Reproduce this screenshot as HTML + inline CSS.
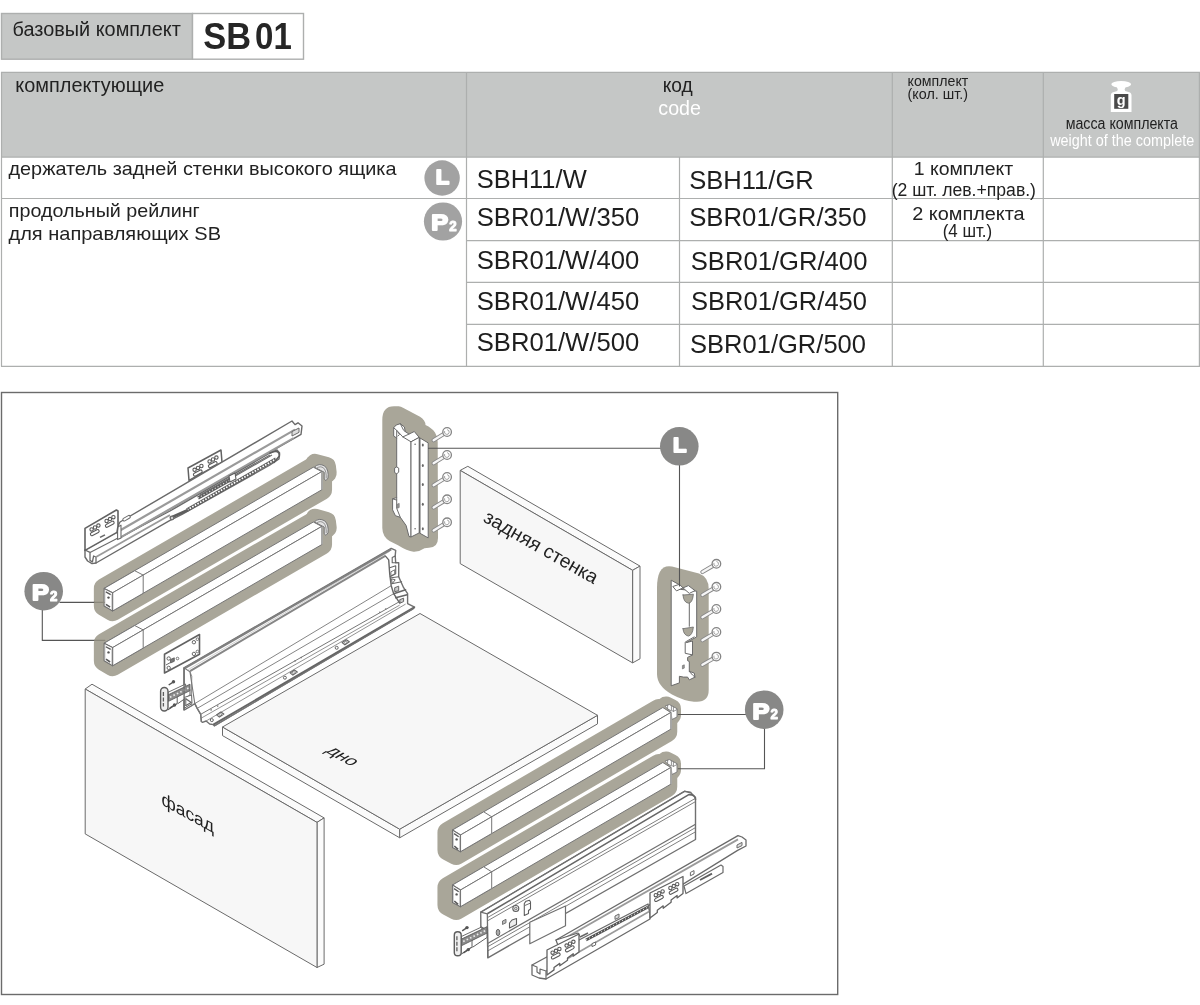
<!DOCTYPE html>
<html lang="ru">
<head>
<meta charset="utf-8">
<title>SB01</title>
<style>
html,body{margin:0;padding:0;background:#fff;}
body{width:1200px;height:1005px;overflow:hidden;font-family:"Liberation Sans",sans-serif;}
svg{display:block;will-change:transform;}
text{font-family:"Liberation Sans",sans-serif;}
</style>
</head>
<body>
<svg width="1200" height="1005" viewBox="0 0 1200 1005">
<rect x="1.5" y="13.5" width="191" height="45.7" fill="#c5c7c6" stroke="#adafae" stroke-width="1.4"/>
<rect x="192.5" y="13.5" width="111" height="45.7" fill="#fff" stroke="#adafae" stroke-width="1.4"/>
<text x="12.5" y="35.8" font-size="20" fill="#222" textLength="168.3" lengthAdjust="spacingAndGlyphs" >базовый комплект</text>
<text x="203.2" y="49" font-size="36.3" fill="#262626" textLength="47.8" lengthAdjust="spacingAndGlyphs" font-weight="bold" >SB</text>
<text x="255.1" y="49" font-size="36.3" fill="#262626" textLength="36.7" lengthAdjust="spacingAndGlyphs" font-weight="bold" >01</text>
<rect x="1" y="72" width="1199" height="85" fill="#c5c7c6" stroke="none" stroke-width="1"/>
<line x1="1" y1="72.3" x2="1200" y2="72.3" stroke="#adafae" stroke-width="1.2"/>
<line x1="1" y1="157.2" x2="1200" y2="157.2" stroke="#adafae" stroke-width="1.2"/>
<line x1="1" y1="198.5" x2="1200" y2="198.5" stroke="#adafae" stroke-width="1.2"/>
<line x1="466.5" y1="240.6" x2="1200" y2="240.6" stroke="#adafae" stroke-width="1.2"/>
<line x1="466.5" y1="282.3" x2="1200" y2="282.3" stroke="#adafae" stroke-width="1.2"/>
<line x1="466.5" y1="324.3" x2="1200" y2="324.3" stroke="#adafae" stroke-width="1.2"/>
<line x1="1" y1="366.3" x2="1200" y2="366.3" stroke="#adafae" stroke-width="1.2"/>
<line x1="1.5" y1="72" x2="1.5" y2="366.5" stroke="#adafae" stroke-width="1.2"/>
<line x1="466.5" y1="72" x2="466.5" y2="366.5" stroke="#adafae" stroke-width="1.2"/>
<line x1="679.5" y1="157" x2="679.5" y2="366.5" stroke="#adafae" stroke-width="1.2"/>
<line x1="892.3" y1="72" x2="892.3" y2="366.5" stroke="#adafae" stroke-width="1.2"/>
<line x1="1043.3" y1="72" x2="1043.3" y2="366.5" stroke="#adafae" stroke-width="1.2"/>
<line x1="1199.4" y1="72" x2="1199.4" y2="366.5" stroke="#adafae" stroke-width="1.2"/>
<text x="15.3" y="91.7" font-size="20" fill="#222" textLength="149" lengthAdjust="spacingAndGlyphs" >комплектующие</text>
<text x="662.7" y="92.3" font-size="19.5" fill="#222" textLength="30" lengthAdjust="spacingAndGlyphs" >код</text>
<text x="658.3" y="115" font-size="19.5" fill="#fff" textLength="42.7" lengthAdjust="spacingAndGlyphs" >code</text>
<text x="907.6" y="86.2" font-size="15" fill="#222" textLength="60.7" lengthAdjust="spacingAndGlyphs" >комплект</text>
<text x="907.6" y="98.6" font-size="15" fill="#222" textLength="60.4" lengthAdjust="spacingAndGlyphs" >(кол. шт.)</text>
<text x="1065.7" y="129" font-size="16" fill="#222" textLength="112.3" lengthAdjust="spacingAndGlyphs" >масса комплекта</text>
<text x="1050.2" y="145.6" font-size="16" fill="#fff" textLength="144" lengthAdjust="spacingAndGlyphs" >weight of the complete</text>
<g fill="#fff">
<ellipse cx="1121.2" cy="84.3" rx="9.9" ry="3.3" fill="#fff" stroke="none" stroke-width="1"/>
<path d="M1116.5 86 L1125.9 86 L1124.6 89.5 L1125.2 91 L1130 92.5 Q1131.3 93 1131.5 95 L1131.5 112 L1110.8 112 L1110.8 95 Q1111 93 1112.4 92.5 L1117.2 91 L1117.8 89.5 Z"/>
</g>
<rect x="1114.2" y="94" width="14.1" height="14.8" fill="#4a4a4a" stroke="none" stroke-width="1"/>
<text x="1121.3" y="105.3" font-size="14.5" fill="#fff" font-weight="bold" text-anchor="middle" >g</text>
<text x="8.5" y="175" font-size="19" fill="#222" textLength="388" lengthAdjust="spacingAndGlyphs" >держатель задней стенки высокого ящика</text>
<text x="8.8" y="216.8" font-size="18.5" fill="#222" textLength="191" lengthAdjust="spacingAndGlyphs" >продольный рейлинг</text>
<text x="8.5" y="239.5" font-size="18.5" fill="#222" textLength="212.5" lengthAdjust="spacingAndGlyphs" >для направляющих SB</text>
<circle cx="442.1" cy="178" r="17.7" fill="#a2a2a2" stroke="none" stroke-width="1"/>
<text transform="translate(435.8,184) scale(1.077,1)" font-size="20.5" font-weight="bold" fill="#fff" stroke="#fff" stroke-width="1.8" stroke-linejoin="round">L</text>
<circle cx="443" cy="221.5" r="19.1" fill="#a2a2a2" stroke="none" stroke-width="1"/>
<text transform="translate(431.3,230.4) scale(1.131,1)" font-size="22.4" font-weight="bold" fill="#fff" stroke="#fff" stroke-width="1.8" stroke-linejoin="round">P</text>
<text transform="translate(449.2,230.8) scale(0.959,1)" font-size="13.9" font-weight="bold" fill="#fff" stroke="#fff" stroke-width="1.0" stroke-linejoin="round">2</text>
<text x="476.7" y="188.3" font-size="25.5" fill="#1e1e1e" textLength="110" lengthAdjust="spacingAndGlyphs" >SBH11/W</text>
<text x="689.2" y="189.1" font-size="25.5" fill="#1e1e1e" textLength="124.6" lengthAdjust="spacingAndGlyphs" >SBH11/GR</text>
<text x="476.7" y="225.7" font-size="25.5" fill="#1e1e1e" textLength="162.6" lengthAdjust="spacingAndGlyphs" >SBR01/W/350</text>
<text x="689.2" y="226.3" font-size="25.5" fill="#1e1e1e" textLength="177.3" lengthAdjust="spacingAndGlyphs" >SBR01/GR/350</text>
<text x="476.7" y="269" font-size="25.5" fill="#1e1e1e" textLength="162.6" lengthAdjust="spacingAndGlyphs" >SBR01/W/400</text>
<text x="690.7" y="270" font-size="25.5" fill="#1e1e1e" textLength="176.7" lengthAdjust="spacingAndGlyphs" >SBR01/GR/400</text>
<text x="476.7" y="310" font-size="25.5" fill="#1e1e1e" textLength="162.6" lengthAdjust="spacingAndGlyphs" >SBR01/W/450</text>
<text x="691" y="310" font-size="25.5" fill="#1e1e1e" textLength="176" lengthAdjust="spacingAndGlyphs" >SBR01/GR/450</text>
<text x="476.7" y="351" font-size="25.5" fill="#1e1e1e" textLength="162.6" lengthAdjust="spacingAndGlyphs" >SBR01/W/500</text>
<text x="690" y="352.5" font-size="25.5" fill="#1e1e1e" textLength="176" lengthAdjust="spacingAndGlyphs" >SBR01/GR/500</text>
<text x="913.7" y="174.7" font-size="18" fill="#222" textLength="99.5" lengthAdjust="spacingAndGlyphs" >1 комплект</text>
<text x="891.7" y="195.7" font-size="18" fill="#222" textLength="144.3" lengthAdjust="spacingAndGlyphs" >(2 шт. лев.+прав.)</text>
<text x="912.2" y="219.7" font-size="18" fill="#222" textLength="112.5" lengthAdjust="spacingAndGlyphs" >2 комплекта</text>
<text x="942.7" y="237" font-size="18" fill="#222" textLength="49.5" lengthAdjust="spacingAndGlyphs" >(4 шт.)</text>
<rect x="1.5" y="392.5" width="836.2" height="602" fill="none" stroke="#6b6b6b" stroke-width="1.4"/>
<polygon points="460.2,470.4 467.8,466.3 640,566.1 632.6,570.3" fill="#fbfbfb" stroke="#6a6a6a" stroke-width="1" stroke-linejoin="round" />
<polygon points="632.6,570.3 640,566.1 640,658.8 632.6,662.9" fill="#fbfbfb" stroke="#6a6a6a" stroke-width="1" stroke-linejoin="round" />
<polygon points="460.2,470.4 632.6,570.3 632.6,662.9 460.2,563.6" fill="#f7f7f7" stroke="#6a6a6a" stroke-width="1" stroke-linejoin="round" />
<text transform="translate(482.3,520.9) rotate(29.7)" font-size="19.3" fill="#222" textLength="128.3" lengthAdjust="spacingAndGlyphs">задняя стенка</text>
<polygon points="104.1,588.4 313.3,467.2 321.8,471.6 321.8,489.8 112.6,611 104.1,606" fill="#a9a699" stroke="#a9a699" stroke-width="20.5" stroke-linejoin="round"/>
<polygon points="315,463.4 326.4,466.5 327.2,473.1 321.8,474.6" fill="#a9a699" stroke="#a9a699" stroke-width="19" stroke-linejoin="round"/>
<polygon points="104.1,643.2 313.3,522 321.8,526.4 321.8,544.6 112.6,665.8 104.1,660.8" fill="#a9a699" stroke="#a9a699" stroke-width="20.5" stroke-linejoin="round"/>
<polygon points="315,518.2 326.4,521.3 327.2,527.9 321.8,529.4" fill="#a9a699" stroke="#a9a699" stroke-width="19" stroke-linejoin="round"/>
<polygon points="448.2,832.5 658.5,710 666.5,715 666.5,731.7 456.2,854.2 448.2,850" fill="#a9a699" stroke="#a9a699" stroke-width="21.5" stroke-linejoin="round"/>
<polygon points="666,706.5 671,709 671,715 665,720" fill="#a9a699" stroke="#a9a699" stroke-width="20" stroke-linejoin="round"/>
<polygon points="448.2,887.5 658.5,765 666.5,770 666.5,786.7 456.2,909.2 448.2,905" fill="#a9a699" stroke="#a9a699" stroke-width="21.5" stroke-linejoin="round"/>
<polygon points="666,761.5 671,764 671,770 665,775" fill="#a9a699" stroke="#a9a699" stroke-width="20" stroke-linejoin="round"/>
<polygon points="188,468 221,450 222,462.4 189,480.4" fill="#fff" stroke="#626262" stroke-width="1.5" stroke-linejoin="round" />
<circle cx="194.6" cy="469.8" r="1.7" fill="#fff" stroke="#5a5a5a" stroke-width="1.1"/>
<circle cx="198" cy="467.9" r="1.7" fill="#fff" stroke="#5a5a5a" stroke-width="1.1"/>
<circle cx="201.4" cy="466" r="1.7" fill="#fff" stroke="#5a5a5a" stroke-width="1.1"/>
<rect x="193" y="471.4" width="9.5" height="3" rx="1.5" fill="#fff" stroke="#5a5a5a" stroke-width="1.1" transform="rotate(-28 198 472.9)"/>
<circle cx="209.6" cy="461.4" r="1.7" fill="#fff" stroke="#5a5a5a" stroke-width="1.1"/>
<circle cx="213" cy="459.5" r="1.7" fill="#fff" stroke="#5a5a5a" stroke-width="1.1"/>
<circle cx="216.4" cy="457.6" r="1.7" fill="#fff" stroke="#5a5a5a" stroke-width="1.1"/>
<rect x="208" y="463" width="9.5" height="3" rx="1.5" fill="#fff" stroke="#5a5a5a" stroke-width="1.1" transform="rotate(-28 213 464.5)"/>
<polygon points="85,550 117,532 119,538 170,511 270,453 277,450 279.6,453 279,459 270,465 182,514.4 170,520.4 96,563 92,563.6 87.6,561 85,557" fill="#fff" stroke="#6a6a6a" stroke-width="1.4" stroke-linejoin="round" />
<polygon points="118,526 120,522 292,421 295,424.6 298,422.8 302,426 301,434.4 294,438.4 119,538.4" fill="#fff" stroke="#6a6a6a" stroke-width="1.4" stroke-linejoin="round" />
<line x1="120.4" y1="530.2" x2="295" y2="429.6" stroke="#9a9a9a" stroke-width="2.2"/>
<line x1="119.8" y1="537.8" x2="293.6" y2="438" stroke="#9a9a9a" stroke-width="2.0"/>
<polygon points="292,431.6 299,428 299,432.4 292,436" fill="#ddd" stroke="#6a6a6a" stroke-width="1.0" stroke-linejoin="round" />
<rect x="122.4" y="519" width="8" height="2.8" rx="1.2" fill="#fff" stroke="#6a6a6a" stroke-width="1.0" transform="rotate(-30 122.4 519)"/>
<polygon points="117.6,527 121,525.2 121,538 117.6,539.6" fill="#fff" stroke="#6a6a6a" stroke-width="1.1" stroke-linejoin="round" />
<polyline points="85,550 90,552.4 90,560.4 92.4,562 93.6,556 96,557 96,563" fill="none" stroke="#6a6a6a" stroke-width="1.3" stroke-linejoin="round" stroke-linecap="round" />
<line x1="90" y1="552.4" x2="118" y2="538" stroke="#6a6a6a" stroke-width="1.1"/>
<line x1="96" y1="557" x2="170" y2="515" stroke="#9a9a9a" stroke-width="1.8"/>
<line x1="187" y1="510" x2="276" y2="459" stroke="#5e5e5e" stroke-width="3.4"/>
<line x1="187" y1="510" x2="276" y2="459" stroke="#fff" stroke-width="1.7" stroke-dasharray="1.6 1.4"/>
<line x1="170" y1="518" x2="188" y2="510" stroke="#5e5e5e" stroke-width="2.8"/>
<circle cx="172" cy="518" r="1.9" fill="#ccc" stroke="#5e5e5e" stroke-width="1.0"/>
<line x1="198" y1="498" x2="230" y2="480" stroke="#5e5e5e" stroke-width="3.2"/>
<line x1="198" y1="498" x2="230" y2="480" stroke="#ddd" stroke-width="1.2" stroke-dasharray="1.2 2"/>
<line x1="200" y1="495" x2="270" y2="455" stroke="#6a6a6a" stroke-width="1.1"/>
<line x1="230" y1="479" x2="272" y2="455" stroke="#6a6a6a" stroke-width="1.1"/>
<polygon points="229,476 235,473 236,479 230,482" fill="#fff" stroke="#5e5e5e" stroke-width="1.1" stroke-linejoin="round" />
<path d="M270 453 Q280 449 279.4 456 L274 462.4" fill="none" stroke="#5e5e5e" stroke-width="1.6" stroke-linejoin="round" stroke-linecap="round" />
<polygon points="85,528.4 116.4,510 118,511 118,526 117,532.4 85,550.4" fill="#fff" stroke="#626262" stroke-width="1.6" stroke-linejoin="round" />
<circle cx="91.6" cy="529.4" r="1.7" fill="#fff" stroke="#5a5a5a" stroke-width="1.1"/>
<circle cx="95" cy="527.5" r="1.7" fill="#fff" stroke="#5a5a5a" stroke-width="1.1"/>
<circle cx="98.4" cy="525.6" r="1.7" fill="#fff" stroke="#5a5a5a" stroke-width="1.1"/>
<rect x="90" y="531" width="9.5" height="3" rx="1.5" fill="#fff" stroke="#5a5a5a" stroke-width="1.1" transform="rotate(-28 95 532.5)"/>
<circle cx="106.6" cy="521" r="1.7" fill="#fff" stroke="#5a5a5a" stroke-width="1.1"/>
<circle cx="110" cy="519.1" r="1.7" fill="#fff" stroke="#5a5a5a" stroke-width="1.1"/>
<circle cx="113.4" cy="517.2" r="1.7" fill="#fff" stroke="#5a5a5a" stroke-width="1.1"/>
<rect x="105" y="522.6" width="9.5" height="3" rx="1.5" fill="#fff" stroke="#5a5a5a" stroke-width="1.1" transform="rotate(-28 110 524.1)"/>
<line x1="100" y1="537.4" x2="105" y2="534.8" stroke="#666" stroke-width="1.5"/>
<polygon points="164.5,654.3 199.5,634.5 199.5,654.3 164.5,673" fill="#fff" stroke="#626262" stroke-width="1.6" stroke-linejoin="round" />
<circle cx="168.7" cy="658.5" r="1.7" fill="#fff" stroke="#666" stroke-width="1.0"/>
<circle cx="168.7" cy="667.9" r="1.7" fill="#fff" stroke="#666" stroke-width="1.0"/>
<circle cx="193.9" cy="642.2" r="1.7" fill="#fff" stroke="#666" stroke-width="1.0"/>
<circle cx="193.9" cy="653.9" r="1.7" fill="#fff" stroke="#666" stroke-width="1.0"/>
<circle cx="197.4" cy="639.2" r="1.3" fill="#fff" stroke="#666" stroke-width="0.9"/>
<circle cx="197.4" cy="651.5" r="1.3" fill="#fff" stroke="#666" stroke-width="0.9"/>
<circle cx="177.5" cy="658.5" r="1.3" fill="#fff" stroke="#666" stroke-width="0.9"/>
<polygon points="170.5,659.5 174.3,657.8 174.3,661.3 170.5,663" fill="#777" stroke="#555" stroke-width="0.8" stroke-linejoin="round" />
<polyline points="166.3,664.8 170.5,662.5" fill="none" stroke="#666" stroke-width="1.0" stroke-linejoin="round" stroke-linecap="round" />
<polygon points="184,667.8 391.2,548.4 395.7,550.4 395.2,555.9 395.7,562.8 398.7,562.8 398.7,576.8 403.6,587.7 407.6,593.7 407.6,603.6 414.6,607.1 413.1,608.8 214.3,725.8 213.3,724.6 209.7,724 206.1,721 202.5,722.3 201.3,721.5 200.7,714.3 197.2,708.4 194.8,703.6 191.2,706 184,710.1" fill="#fff" stroke="#707070" stroke-width="1.4" stroke-linejoin="round" />
<line x1="188.2" y1="669.6" x2="389.7" y2="551.4" stroke="#c4c4c4" stroke-width="0.8"/>
<line x1="190" y1="671.1" x2="385.7" y2="555.6" stroke="#868686" stroke-width="1.9"/>
<line x1="184" y1="668.7" x2="391.2" y2="549.3" stroke="#808080" stroke-width="2.1"/>
<polyline points="184,667.8 190,671.9 194.8,703.6 197.2,708.4 200.7,714.3 201.3,721.5" fill="none" stroke="#777" stroke-width="1.1" stroke-linejoin="round" stroke-linecap="round" />
<polyline points="191.2,706 191.8,676.1 190,671.9" fill="none" stroke="#777" stroke-width="0.8" stroke-linejoin="round" stroke-linecap="round" />
<line x1="194.8" y1="703.6" x2="391.2" y2="585.7" stroke="#777" stroke-width="0.9"/>
<line x1="197.2" y1="708.4" x2="393.7" y2="593.7" stroke="#777" stroke-width="0.9"/>
<line x1="200.7" y1="714.3" x2="399.2" y2="601.8" stroke="#777" stroke-width="1.0"/>
<line x1="201.3" y1="718.1" x2="399.7" y2="605.1" stroke="#777" stroke-width="0.8"/>
<line x1="206.1" y1="721" x2="405.6" y2="604.1" stroke="#777" stroke-width="0.8"/>
<line x1="213.3" y1="724.6" x2="414.6" y2="607.1" stroke="#666" stroke-width="1.8"/>
<line x1="214.3" y1="726.2" x2="413.1" y2="608.8" stroke="#777" stroke-width="0.8"/>
<polyline points="385.7,556.4 388.7,559.9 389.7,573.8 391.2,585.7 393.7,593.7 399.7,603.1" fill="none" stroke="#666" stroke-width="1.4" stroke-linejoin="round" stroke-linecap="round" />
<polyline points="395.2,555.9 392.2,557.4 392.2,562.8 395.7,562.8" fill="none" stroke="#666" stroke-width="1.1" stroke-linejoin="round" stroke-linecap="round" />
<polyline points="389.7,567.8 395.7,565.8 395.7,573.8 390.2,576.8" fill="none" stroke="#666" stroke-width="1.1" stroke-linejoin="round" stroke-linecap="round" />
<polygon points="390.9,571.8 394.7,569.8 394.7,573.8 390.9,575.8" fill="#fff" stroke="#666" stroke-width="0.9" stroke-linejoin="round" />
<polyline points="391.2,577.8 398.7,576.8" fill="none" stroke="#666" stroke-width="1.1" stroke-linejoin="round" stroke-linecap="round" />
<polygon points="391.5,578.8 395.2,579.8 392.2,583.7" fill="#fff" stroke="#666" stroke-width="1.0" stroke-linejoin="round" />
<polyline points="391.7,583.7 401.6,581.7" fill="none" stroke="#666" stroke-width="1.1" stroke-linejoin="round" stroke-linecap="round" />
<polyline points="393.7,593.7 405.6,589.7" fill="none" stroke="#666" stroke-width="1.5" stroke-linejoin="round" stroke-linecap="round" />
<polyline points="395.7,597.7 407.1,594.7" fill="none" stroke="#666" stroke-width="1.5" stroke-linejoin="round" stroke-linecap="round" />
<polygon points="394.7,587.7 398.7,586.2 398.7,590.7 394.7,591.7" fill="#ccc" stroke="#666" stroke-width="1.0" stroke-linejoin="round" />
<polygon points="399.7,599.7 403.6,598.2 403.6,601.6 400.1,603.1" fill="#ccc" stroke="#666" stroke-width="1.0" stroke-linejoin="round" />
<polygon points="342.1,642.6 346.3,639.8 349.3,641.8 344.9,644.8" fill="#fff" stroke="#666" stroke-width="1.2" stroke-linejoin="round" />
<polygon points="343.9,642.5 346.1,641.2 347.5,642.1 345.3,643.5" fill="#fff" stroke="#777" stroke-width="0.7" stroke-linejoin="round" />
<polygon points="290.1,672.9 294.3,670.1 297.3,672.1 292.9,675.1" fill="#fff" stroke="#666" stroke-width="1.2" stroke-linejoin="round" />
<polygon points="291.9,672.8 294.1,671.5 295.5,672.4 293.3,673.8" fill="#fff" stroke="#777" stroke-width="0.7" stroke-linejoin="round" />
<polygon points="216.6,714.9 220.8,712.1 223.8,714.1 219.4,717.1" fill="#fff" stroke="#666" stroke-width="1.2" stroke-linejoin="round" />
<polygon points="218.4,714.8 220.6,713.5 222,714.4 219.8,715.8" fill="#fff" stroke="#777" stroke-width="0.7" stroke-linejoin="round" />
<circle cx="336.7" cy="647.8" r="1.5" fill="#fff" stroke="#666" stroke-width="1.0"/>
<circle cx="284.9" cy="677.7" r="1.5" fill="#fff" stroke="#666" stroke-width="1.0"/>
<circle cx="211.8" cy="720.1" r="1.5" fill="#fff" stroke="#666" stroke-width="1.0"/>
<circle cx="379.8" cy="612.3" r="0.8" fill="#777" stroke="none" stroke-width="1"/>
<circle cx="385.7" cy="609.1" r="0.8" fill="#777" stroke="none" stroke-width="1"/>
<circle cx="295.1" cy="660.9" r="0.8" fill="#777" stroke="none" stroke-width="1"/>
<circle cx="301.2" cy="657.6" r="0.8" fill="#777" stroke="none" stroke-width="1"/>
<circle cx="211.1" cy="709.9" r="0.8" fill="#777" stroke="none" stroke-width="1"/>
<circle cx="217.7" cy="706.1" r="0.8" fill="#777" stroke="none" stroke-width="1"/>
<polygon points="177.2,696.5 190,689.5 190,695 177.9,703.6 177.2,703" fill="#fff" stroke="#5e5e5e" stroke-width="1.0" stroke-linejoin="round" />
<line x1="168" y1="709.8" x2="177.2" y2="703.5" stroke="#5e5e5e" stroke-width="1.1"/>
<polygon points="168.5,694.7 190,684.2 190,690.6 168.5,701.3" fill="#8c8c8c" stroke="#5e5e5e" stroke-width="0.9" stroke-linejoin="round" />
<line x1="170" y1="697.2" x2="189" y2="687.8" stroke="#eee" stroke-width="1.6" stroke-dasharray="1.6 2.2"/>
<polygon points="168,692.3 185.6,684 185.6,686.4 168,694.9" fill="#fff" stroke="#5e5e5e" stroke-width="0.9" stroke-linejoin="round" />
<rect x="160.6" y="687.5" width="7.4" height="23.5" rx="3.7" fill="#efefef" stroke="#5e5e5e" stroke-width="1.4"/>
<line x1="163.4" y1="692" x2="163.4" y2="706.5" stroke="#5e5e5e" stroke-width="1.3" stroke-dasharray="4 1.5"/>
<line x1="173.5" y1="681.8" x2="168.7" y2="685" stroke="#555" stroke-width="1.5"/>
<circle cx="173.5" cy="681.8" r="1.7" fill="#555" stroke="none" stroke-width="1"/>
<line x1="174.5" y1="705" x2="169.7" y2="708.2" stroke="#555" stroke-width="1.5"/>
<circle cx="174.5" cy="705" r="1.7" fill="#555" stroke="none" stroke-width="1"/>
<polygon points="184.4,697.4 191.6,695 192,703.6 184.4,708.1" fill="#fff" stroke="#666" stroke-width="1.0" stroke-linejoin="round" />
<polyline points="185.8,698.8 191.2,702.4 185.8,705.4" fill="none" stroke="#666" stroke-width="1.2" stroke-linejoin="round" stroke-linecap="round" />
<polyline points="185.8,698.8 185.8,705.4" fill="none" stroke="#666" stroke-width="1.0" stroke-linejoin="round" stroke-linecap="round" />
<line x1="184.1" y1="668" x2="184.1" y2="710.1" stroke="#707070" stroke-width="1.4"/>
<polygon points="222.5,727 399.7,829.2 399.7,837.8 222.5,735.6" fill="#fbfbfb" stroke="#6a6a6a" stroke-width="1" stroke-linejoin="round" />
<polygon points="399.7,829.2 597.5,715.3 597.5,723.9 399.7,837.8" fill="#fbfbfb" stroke="#6a6a6a" stroke-width="1" stroke-linejoin="round" />
<polygon points="222.5,727 420,613.5 597.5,715.3 399.7,829.2" fill="#f7f7f7" stroke="#6a6a6a" stroke-width="1" stroke-linejoin="round" />
<text transform="matrix(0.78,0.45,-0.78,0.45,324.7,751.4)" font-size="20" fill="#222">дно</text>
<polygon points="85.2,689 92,684.2 324.1,817.9 317,822.4" fill="#fbfbfb" stroke="#6a6a6a" stroke-width="1" stroke-linejoin="round" />
<polygon points="317,822.4 324.1,817.9 324.1,964.2 317,967.5" fill="#fbfbfb" stroke="#6a6a6a" stroke-width="1" stroke-linejoin="round" />
<polygon points="85.2,689 317,822.4 317,967.5 85.2,833.9" fill="#f7f7f7" stroke="#6a6a6a" stroke-width="1" stroke-linejoin="round" />
<text transform="translate(161.5,804.6) skewY(28.7)" font-size="18" fill="#222" textLength="52.4" lengthAdjust="spacingAndGlyphs">фасад</text>
<path d="M314.6 466.9 Q318.8 462.6 324.8 466.1 Q329 470.1 328 478.1 L326 480.6 L324.2 479.1 L324.2 472.6 Z" fill="#e4e4e4" stroke="#777" stroke-width="1.0" stroke-linejoin="round" stroke-linecap="round" />
<path d="M316.8 468.2 Q320.3 465.3 323.8 468.2 Q326.6 471.1 326.2 478.1" fill="none" stroke="#888" stroke-width="0.9" stroke-linejoin="round" stroke-linecap="round" />
<polygon points="104.1,588.4 313.3,467.2 321.8,471.6 112.6,592.8" fill="#fff" stroke="#767676" stroke-width="1" stroke-linejoin="round" />
<polygon points="112.6,592.8 321.8,471.6 321.8,489.8 112.6,611" fill="#fff" stroke="#767676" stroke-width="1" stroke-linejoin="round" />
<line x1="322" y1="472.1" x2="322" y2="489.5" stroke="#aaa" stroke-width="1.6"/>
<polygon points="104.1,588.4 134.7,570.7 143.2,575.1 112.6,592.8" fill="#fff" stroke="#767676" stroke-width="1" stroke-linejoin="round" />
<polygon points="112.6,592.8 143.2,575.1 143.2,593.3 112.6,611" fill="#fff" stroke="#767676" stroke-width="1" stroke-linejoin="round" />
<polygon points="104.1,588.4 112.6,592.8 112.6,611 104.1,606" fill="#fff" stroke="#707070" stroke-width="1.1" stroke-linejoin="round" />
<line x1="105.8" y1="591.9" x2="110.7" y2="594.6" stroke="#5a5a5a" stroke-width="1.3"/>
<circle cx="108.5" cy="597.6" r="1.2" fill="#555" stroke="none" stroke-width="1"/>
<line x1="106" y1="604.3" x2="110.1" y2="607.2" stroke="#5a5a5a" stroke-width="1.6"/>
<line x1="104.9" y1="590.3" x2="104.9" y2="605.5" stroke="#aaa" stroke-width="0.7"/>
<line x1="111.8" y1="593.9" x2="111.8" y2="609.5" stroke="#aaa" stroke-width="0.7"/>
<path d="M314.6 521.7 Q318.8 517.4 324.8 520.9 Q329 524.9 328 532.9 L326 535.4 L324.2 533.9 L324.2 527.4 Z" fill="#e4e4e4" stroke="#777" stroke-width="1.0" stroke-linejoin="round" stroke-linecap="round" />
<path d="M316.8 523 Q320.3 520.1 323.8 523 Q326.6 525.9 326.2 532.9" fill="none" stroke="#888" stroke-width="0.9" stroke-linejoin="round" stroke-linecap="round" />
<polygon points="104.1,643.2 313.3,522 321.8,526.4 112.6,647.6" fill="#fff" stroke="#767676" stroke-width="1" stroke-linejoin="round" />
<polygon points="112.6,647.6 321.8,526.4 321.8,544.6 112.6,665.8" fill="#fff" stroke="#767676" stroke-width="1" stroke-linejoin="round" />
<line x1="322" y1="526.9" x2="322" y2="544.3" stroke="#aaa" stroke-width="1.6"/>
<polygon points="104.1,643.2 134.7,625.5 143.2,629.9 112.6,647.6" fill="#fff" stroke="#767676" stroke-width="1" stroke-linejoin="round" />
<polygon points="112.6,647.6 143.2,629.9 143.2,648.1 112.6,665.8" fill="#fff" stroke="#767676" stroke-width="1" stroke-linejoin="round" />
<polygon points="104.1,643.2 112.6,647.6 112.6,665.8 104.1,660.8" fill="#fff" stroke="#707070" stroke-width="1.1" stroke-linejoin="round" />
<line x1="105.8" y1="646.7" x2="110.7" y2="649.4" stroke="#5a5a5a" stroke-width="1.3"/>
<circle cx="108.5" cy="652.4" r="1.2" fill="#555" stroke="none" stroke-width="1"/>
<line x1="106" y1="659.1" x2="110.1" y2="662" stroke="#5a5a5a" stroke-width="1.6"/>
<line x1="104.9" y1="645.1" x2="104.9" y2="660.3" stroke="#aaa" stroke-width="0.7"/>
<line x1="111.8" y1="648.7" x2="111.8" y2="664.3" stroke="#aaa" stroke-width="0.7"/>
<polygon points="665,706.2 669.3,704.5 677,708.7 677,717 672,719.5 671,712.5" fill="#fff" stroke="#777" stroke-width="0.9" stroke-linejoin="round" />
<polyline points="667.6,705.3 667.6,708.9 671.2,710.8" fill="none" stroke="#777" stroke-width="0.8" stroke-linejoin="round" stroke-linecap="round" />
<polyline points="671.4,705.9 671.4,710.3 673.4,711.4 673.4,706.9" fill="none" stroke="#777" stroke-width="0.8" stroke-linejoin="round" stroke-linecap="round" />
<polyline points="673.4,711.4 677,709.5" fill="none" stroke="#777" stroke-width="0.8" stroke-linejoin="round" stroke-linecap="round" />
<polygon points="452.5,830 662.8,707.5 670.8,712.5 460.5,835" fill="#fff" stroke="#767676" stroke-width="1" stroke-linejoin="round" />
<polygon points="460.5,835 670.8,712.5 670.8,729.2 460.5,851.7" fill="#fff" stroke="#767676" stroke-width="1" stroke-linejoin="round" />
<line x1="671" y1="713" x2="671" y2="728.9" stroke="#aaa" stroke-width="1.6"/>
<polygon points="452.5,830 483.7,811.8 491.7,816.8 460.5,835" fill="#fff" stroke="#767676" stroke-width="1" stroke-linejoin="round" />
<polygon points="460.5,835 491.7,816.8 491.7,833.5 460.5,851.7" fill="#fff" stroke="#767676" stroke-width="1" stroke-linejoin="round" />
<polygon points="452.5,830 460.5,835 460.5,851.7 452.5,847.5" fill="#fff" stroke="#707070" stroke-width="1.1" stroke-linejoin="round" />
<line x1="454.1" y1="833.6" x2="458.7" y2="836.7" stroke="#5a5a5a" stroke-width="1.3"/>
<circle cx="456.6" cy="839.4" r="1.2" fill="#555" stroke="none" stroke-width="1"/>
<line x1="454.3" y1="846" x2="458.1" y2="849.3" stroke="#5a5a5a" stroke-width="1.6"/>
<line x1="453.3" y1="832" x2="453.3" y2="846.9" stroke="#aaa" stroke-width="0.7"/>
<line x1="459.7" y1="836" x2="459.7" y2="850.3" stroke="#aaa" stroke-width="0.7"/>
<polygon points="665,761.2 669.3,759.5 677,763.7 677,772 672,774.5 671,767.5" fill="#fff" stroke="#777" stroke-width="0.9" stroke-linejoin="round" />
<polyline points="667.6,760.3 667.6,763.9 671.2,765.8" fill="none" stroke="#777" stroke-width="0.8" stroke-linejoin="round" stroke-linecap="round" />
<polyline points="671.4,760.9 671.4,765.3 673.4,766.4 673.4,761.9" fill="none" stroke="#777" stroke-width="0.8" stroke-linejoin="round" stroke-linecap="round" />
<polyline points="673.4,766.4 677,764.5" fill="none" stroke="#777" stroke-width="0.8" stroke-linejoin="round" stroke-linecap="round" />
<polygon points="452.5,885 662.8,762.5 670.8,767.5 460.5,890" fill="#fff" stroke="#767676" stroke-width="1" stroke-linejoin="round" />
<polygon points="460.5,890 670.8,767.5 670.8,784.2 460.5,906.7" fill="#fff" stroke="#767676" stroke-width="1" stroke-linejoin="round" />
<line x1="671" y1="768" x2="671" y2="783.9" stroke="#aaa" stroke-width="1.6"/>
<polygon points="452.5,885 483.7,866.8 491.7,871.8 460.5,890" fill="#fff" stroke="#767676" stroke-width="1" stroke-linejoin="round" />
<polygon points="460.5,890 491.7,871.8 491.7,888.5 460.5,906.7" fill="#fff" stroke="#767676" stroke-width="1" stroke-linejoin="round" />
<polygon points="452.5,885 460.5,890 460.5,906.7 452.5,902.5" fill="#fff" stroke="#707070" stroke-width="1.1" stroke-linejoin="round" />
<line x1="454.1" y1="888.6" x2="458.7" y2="891.7" stroke="#5a5a5a" stroke-width="1.3"/>
<circle cx="456.6" cy="894.4" r="1.2" fill="#555" stroke="none" stroke-width="1"/>
<line x1="454.3" y1="901" x2="458.1" y2="904.3" stroke="#5a5a5a" stroke-width="1.6"/>
<line x1="453.3" y1="887" x2="453.3" y2="901.9" stroke="#aaa" stroke-width="0.7"/>
<line x1="459.7" y1="891" x2="459.7" y2="905.3" stroke="#aaa" stroke-width="0.7"/>
<polygon points="480.8,912.1 684.5,791.3 690.8,792.8 695.5,797.5 695.5,839.5 487.8,957.8 487.5,930 481,927" fill="#fff" stroke="#707070" stroke-width="1.4" stroke-linejoin="round" />
<path d="M487.3 913.8 L688.8 794.6 Q695.5 794.5 695.5 799.5" fill="none" stroke="#666" stroke-width="1.6" stroke-linejoin="round" stroke-linecap="round" />
<line x1="487.3" y1="913.8" x2="487.8" y2="957.8" stroke="#707070" stroke-width="1.4"/>
<polyline points="480.8,912.1 684.5,791.3 691,792.2" fill="none" stroke="#707070" stroke-width="1.1" stroke-linejoin="round" stroke-linecap="round" />
<line x1="487.6" y1="917.5" x2="695.5" y2="798.3" stroke="#707070" stroke-width="0.9"/>
<line x1="487.6" y1="920.8" x2="695.5" y2="801.6" stroke="#707070" stroke-width="0.9"/>
<line x1="487.6" y1="943.5" x2="695.5" y2="824.3" stroke="#707070" stroke-width="1.2"/>
<line x1="487.6" y1="946.8" x2="695.5" y2="827.6" stroke="#707070" stroke-width="0.9"/>
<line x1="487.6" y1="951" x2="695.5" y2="831.8" stroke="#707070" stroke-width="0.9"/>
<polygon points="529.8,922.3 565.5,906 565.5,925.8 529.8,943.8" fill="#fff" stroke="#707070" stroke-width="1.2" stroke-linejoin="round" />
<circle cx="515.8" cy="908.5" r="3" fill="#fff" stroke="#5e5e5e" stroke-width="1.1"/>
<circle cx="515.8" cy="908.5" r="1.3" fill="#ddd" stroke="#5e5e5e" stroke-width="0.8"/>
<polygon points="524.3,903.5 526,901.2 529.5,900.2 530.5,902 530.5,909 528.5,910.5 528.5,913.5 524.3,915.5" fill="#fff" stroke="#5e5e5e" stroke-width="1.1" stroke-linejoin="round" />
<line x1="524.8" y1="905.5" x2="530" y2="903.3" stroke="#5e5e5e" stroke-width="0.9"/>
<polygon points="509.5,923 512,920 516.5,918.5 516.5,924.5 509.5,928" fill="#eee" stroke="#5e5e5e" stroke-width="1.1" stroke-linejoin="round" />
<polygon points="502.5,921 506,919.3 506,922.8 502.5,924.5" fill="#bbb" stroke="#5e5e5e" stroke-width="0.8" stroke-linejoin="round" />
<ellipse cx="498" cy="932.5" rx="1.8" ry="3.2" fill="#aaa" stroke="#5e5e5e" stroke-width="0.9"/>
<polygon points="480.8,912.1 487.3,913.8 487.5,930 481,927" fill="#fff" stroke="#707070" stroke-width="1.2" stroke-linejoin="round" />
<polygon points="472,940 487,932 487,937.5 472.8,947.1 472,946.5" fill="#fff" stroke="#5e5e5e" stroke-width="1.0" stroke-linejoin="round" />
<line x1="461.2" y1="954.1" x2="472" y2="947" stroke="#5e5e5e" stroke-width="1.1"/>
<polygon points="461.7,939 487,926.7 487,933.1 461.7,945.6" fill="#8c8c8c" stroke="#5e5e5e" stroke-width="0.9" stroke-linejoin="round" />
<line x1="463.2" y1="941.5" x2="486" y2="930.3" stroke="#eee" stroke-width="1.6" stroke-dasharray="1.6 2.2"/>
<polygon points="461.2,936.6 481.8,926.9 481.8,929.3 461.2,939.2" fill="#fff" stroke="#5e5e5e" stroke-width="0.9" stroke-linejoin="round" />
<rect x="454.3" y="931.8" width="6.9" height="24" rx="3.4" fill="#efefef" stroke="#5e5e5e" stroke-width="1.4"/>
<line x1="456.9" y1="936.3" x2="456.9" y2="951.3" stroke="#5e5e5e" stroke-width="1.3" stroke-dasharray="4 1.5"/>
<line x1="467" y1="927.6" x2="462.2" y2="930.8" stroke="#555" stroke-width="1.5"/>
<circle cx="467" cy="927.6" r="1.7" fill="#555" stroke="none" stroke-width="1"/>
<line x1="468.3" y1="949.6" x2="463.5" y2="952.8" stroke="#555" stroke-width="1.5"/>
<circle cx="468.3" cy="949.6" r="1.7" fill="#555" stroke="none" stroke-width="1"/>
<polygon points="684,886 721,865 723,866.4 723,872.4 686,893.6" fill="#fff" stroke="#6a6a6a" stroke-width="1.2" stroke-linejoin="round" />
<line x1="700" y1="880" x2="712" y2="873.6" stroke="#5e5e5e" stroke-width="1.8"/>
<polygon points="556,940 738,835.6 742,837 746,840 746,846 737.6,850.4 580,948 580,942" fill="#fff" stroke="#6a6a6a" stroke-width="1.3" stroke-linejoin="round" />
<line x1="557" y1="942.8" x2="738" y2="839.4" stroke="#9a9a9a" stroke-width="1.8"/>
<polygon points="737,845 742,842.4 742,845.6 737,848" fill="#ddd" stroke="#6a6a6a" stroke-width="1.0" stroke-linejoin="round" />
<polygon points="532,965 556,952 648,904 650,914 650,919 546,979 539,978 532,975" fill="#fff" stroke="#6a6a6a" stroke-width="1.3" stroke-linejoin="round" />
<polyline points="532,965 537,967 537,972 540,974 540,969 546,971 546,979" fill="none" stroke="#6a6a6a" stroke-width="1.2" stroke-linejoin="round" stroke-linecap="round" />
<line x1="546" y1="971" x2="650" y2="911" stroke="#9a9a9a" stroke-width="1.6"/>
<line x1="586" y1="940" x2="648" y2="907" stroke="#555" stroke-width="2.6"/>
<line x1="586" y1="940" x2="648" y2="907" stroke="#ddd" stroke-width="1.0" stroke-dasharray="1.2 2.2"/>
<line x1="580" y1="937" x2="588" y2="933" stroke="#666" stroke-width="1.4"/>
<polygon points="615,916 619,914 619,917.6 615,919.4" fill="#ddd" stroke="#6a6a6a" stroke-width="1.0" stroke-linejoin="round" />
<polygon points="592,943.6 595.6,942 595.6,945 592,946.6" fill="#fff" stroke="#6a6a6a" stroke-width="1.0" stroke-linejoin="round" />
<polygon points="690.4,872.4 694,870.6 694,874 690.4,875.8" fill="#fff" stroke="#6a6a6a" stroke-width="1.0" stroke-linejoin="round" />
<polygon points="556,940 578,933 579.4,935.6 558,945.6" fill="#fff" stroke="#626262" stroke-width="1.2" stroke-linejoin="round" />
<polygon points="547,950 579,934 579,952 573.2,956.1 573.2,953.7 567.5,957.9 567.5,960.3 559.8,965.8 559.8,963.4 554,967.5 554,969.9 547,975" fill="#fff" stroke="#626262" stroke-width="1.3" stroke-linejoin="round" />
<circle cx="552.6" cy="952.7" r="1.7" fill="#fff" stroke="#5a5a5a" stroke-width="1.1"/>
<circle cx="556" cy="950.8" r="1.7" fill="#fff" stroke="#5a5a5a" stroke-width="1.1"/>
<circle cx="559.4" cy="948.9" r="1.7" fill="#fff" stroke="#5a5a5a" stroke-width="1.1"/>
<rect x="551" y="954.3" width="9.5" height="3" rx="1.5" fill="#fff" stroke="#5a5a5a" stroke-width="1.1" transform="rotate(-28 556 955.8)"/>
<circle cx="566.6" cy="945.6" r="1.7" fill="#fff" stroke="#5a5a5a" stroke-width="1.1"/>
<circle cx="570" cy="943.7" r="1.7" fill="#fff" stroke="#5a5a5a" stroke-width="1.1"/>
<circle cx="573.4" cy="941.8" r="1.7" fill="#fff" stroke="#5a5a5a" stroke-width="1.1"/>
<rect x="565" y="947.2" width="9.5" height="3" rx="1.5" fill="#fff" stroke="#5a5a5a" stroke-width="1.1" transform="rotate(-28 570 948.7)"/>
<polygon points="650,893 683,876.5 683,893.5 677.1,897.9 677.1,895.5 671.1,899.9 671.1,902.3 663.2,908.2 663.2,905.8 657.3,910.2 657.3,912.6 650,918" fill="#fff" stroke="#626262" stroke-width="1.3" stroke-linejoin="round" />
<circle cx="655.8" cy="895.2" r="1.7" fill="#fff" stroke="#5a5a5a" stroke-width="1.1"/>
<circle cx="659.2" cy="893.3" r="1.7" fill="#fff" stroke="#5a5a5a" stroke-width="1.1"/>
<circle cx="662.6" cy="891.4" r="1.7" fill="#fff" stroke="#5a5a5a" stroke-width="1.1"/>
<rect x="654.2" y="896.8" width="9.5" height="3" rx="1.5" fill="#fff" stroke="#5a5a5a" stroke-width="1.1" transform="rotate(-28 659.2 898.3)"/>
<circle cx="670.4" cy="888" r="1.7" fill="#fff" stroke="#5a5a5a" stroke-width="1.1"/>
<circle cx="673.8" cy="886.1" r="1.7" fill="#fff" stroke="#5a5a5a" stroke-width="1.1"/>
<circle cx="677.2" cy="884.2" r="1.7" fill="#fff" stroke="#5a5a5a" stroke-width="1.1"/>
<rect x="668.8" y="889.6" width="9.5" height="3" rx="1.5" fill="#fff" stroke="#5a5a5a" stroke-width="1.1" transform="rotate(-28 673.8 891.1)"/>
<path d="M382.3 420 Q382.3 406.3 394 406.3 L398.7 406.3 Q401 406.5 403 407.8 L420 416.8 Q425.3 420 425.5 425 Q432 428 435 432.5 Q437.7 436.5 437.7 442 L438 538 Q438 547.5 429 547.8 L424.5 548.2 Q419 552 413.5 551.7 Q407 551 398 545.3 L389.5 541 Q382.5 536.5 382.3 528 Z" fill="#a9a699" stroke="none" stroke-width="1" stroke-linejoin="round" stroke-linecap="round" />
<polygon points="393.7,427.8 396.2,425 400.3,423.7 404.4,427 405.2,431.5 409,434.1 414.3,431.5 419.2,437.4 411,441.8 411,537 409,536.5 406.1,525.5 400.3,517.3 395.4,515.7 392.6,509.9 392.6,498.8 396.7,497.6 396.7,473.8 394.6,472.5 394.6,468.1 396.7,466.9 396.7,438 393.7,436.1" fill="#fff" stroke="#6a6a6a" stroke-width="1" stroke-linejoin="round" />
<polyline points="393.7,427.8 396.7,430.3 396.7,438" fill="none" stroke="#6a6a6a" stroke-width="1" stroke-linejoin="round" stroke-linecap="round" />
<polyline points="396.7,430.3 402.8,436.9 411,441.8" fill="none" stroke="#6a6a6a" stroke-width="1" stroke-linejoin="round" stroke-linecap="round" />
<polyline points="402.8,436.9 409,434.1" fill="none" stroke="#6a6a6a" stroke-width="1" stroke-linejoin="round" stroke-linecap="round" />
<polyline points="400.3,423.7 403.6,430.3 405.2,431.5" fill="none" stroke="#6a6a6a" stroke-width="1" stroke-linejoin="round" stroke-linecap="round" />
<polyline points="397.8,431.9 399.5,434.4 397.8,436.1" fill="none" stroke="#6a6a6a" stroke-width="1" stroke-linejoin="round" stroke-linecap="round" />
<polyline points="396.7,466.9 398.7,468.1 398.7,472.2 396.7,473.8" fill="none" stroke="#6a6a6a" stroke-width="1" stroke-linejoin="round" stroke-linecap="round" />
<polyline points="392.6,498.8 396.7,500.1 396.7,497.6" fill="none" stroke="#6a6a6a" stroke-width="1" stroke-linejoin="round" stroke-linecap="round" />
<polyline points="396.7,500.1 396.7,508.3 400.3,517.3" fill="none" stroke="#6a6a6a" stroke-width="1" stroke-linejoin="round" stroke-linecap="round" />
<polygon points="397.2,504.2 399.2,503.4 399.2,507.5 397.2,508.3" fill="#999" stroke="#666" stroke-width="0.6" stroke-linejoin="round" />
<polygon points="411,441.8 419.2,437.4 419.2,532.9 411,537" fill="#fff" stroke="#6a6a6a" stroke-width="1" stroke-linejoin="round" />
<polygon points="420,438 428.2,442.9 428.2,537.9 420,533.3" fill="#fff" stroke="#6a6a6a" stroke-width="1" stroke-linejoin="round" />
<line x1="419.5" y1="437.4" x2="419.5" y2="533.3" stroke="#6a6a6a" stroke-width="1"/>
<circle cx="415.1" cy="444.3" r="0.7" fill="#555" stroke="none" stroke-width="1"/>
<circle cx="415.1" cy="528.8" r="0.7" fill="#555" stroke="none" stroke-width="1"/>
<ellipse cx="422.8" cy="445.1" rx="1" ry="1.5" fill="#666" stroke="none" stroke-width="1"/>
<ellipse cx="422.8" cy="465.6" rx="1" ry="1.5" fill="#666" stroke="none" stroke-width="1"/>
<ellipse cx="422.8" cy="484.5" rx="1" ry="1.5" fill="#666" stroke="none" stroke-width="1"/>
<ellipse cx="422.8" cy="504.2" rx="1" ry="1.5" fill="#666" stroke="none" stroke-width="1"/>
<ellipse cx="422.8" cy="528.8" rx="1" ry="1.5" fill="#666" stroke="none" stroke-width="1"/>
<path d="M657 588 Q657 566.3 669 566.3 L672 566.5 L699 573.5 Q708.7 577 708.7 589 L708.7 690 Q708.7 701.7 697 701.7 L694 701.7 Q684 701 672 694.5 Q657 686 657 674 Z" fill="#a9a699" stroke="none" stroke-width="1" stroke-linejoin="round" stroke-linecap="round" />
<polygon points="671.2,580.2 680.2,585.2 680.2,589.3 696.7,591.2 696.7,636.9 686.3,642.6 692.5,641 692.5,654.9 687.6,657.4 687.6,660.7 689.3,661.5 689.3,671.4 694.2,673 695,677.1 689.3,679.9 687.6,677.1 683.5,677.1 679.4,676.3 679.4,682.9 671.2,685.8" fill="#fff" stroke="#6a6a6a" stroke-width="1" stroke-linejoin="round" />
<polygon points="672.8,586.5 679.4,584.3 683,587.9 676.5,590.9" fill="#fff" stroke="#6a6a6a" stroke-width="1" stroke-linejoin="round" />
<polygon points="683,587.9 688.4,585.6 695,590.6 689.3,593.4" fill="#fff" stroke="#6a6a6a" stroke-width="1" stroke-linejoin="round" />
<line x1="689.3" y1="600.8" x2="689.3" y2="626.7" stroke="#6a6a6a" stroke-width="1"/>
<path d="M683 595 L693.4 594.2 Q692.5 603.2 688.4 603.2 Q683.5 602.4 683 595 Z" fill="#a9a699" stroke="#6a6a6a" stroke-width="0.8" stroke-linejoin="round" stroke-linecap="round" />
<path d="M683 628.7 L693.4 627 Q692.5 635.2 688.4 636.1 Q683.5 635.2 683 628.7 Z" fill="#a9a699" stroke="#6a6a6a" stroke-width="0.8" stroke-linejoin="round" stroke-linecap="round" />
<polyline points="694.2,636.9 685.2,642.1 685.2,653.3 692.5,654.9" fill="none" stroke="#6a6a6a" stroke-width="1" stroke-linejoin="round" stroke-linecap="round" />
<polygon points="682.4,665.6 684.3,664.8 684.3,668.1 682.4,668.9" fill="#999" stroke="#666" stroke-width="0.6" stroke-linejoin="round" />
<polyline points="689.3,671.4 692.5,675 695,677.1" fill="none" stroke="#6a6a6a" stroke-width="1" stroke-linejoin="round" stroke-linecap="round" />
<line x1="443.3" y1="434.3" x2="433.6" y2="440.2" stroke="#8a8a8a" stroke-width="4.2" stroke-linecap="round"/>
<line x1="443.3" y1="434.3" x2="433.6" y2="440.2" stroke="#f6f6f6" stroke-width="2.3" stroke-linecap="round"/>
<circle cx="447.1" cy="432" r="4.3" fill="#fff" stroke="#858585" stroke-width="1.3"/>
<path d="M444.5 431.4 A2.4 2.4 0 1 0 447.5 429.7" fill="none" stroke="#9a9a9a" stroke-width="0.9" stroke-linejoin="round" stroke-linecap="round" />
<line x1="443.3" y1="457.3" x2="433.6" y2="463.2" stroke="#8a8a8a" stroke-width="4.2" stroke-linecap="round"/>
<line x1="443.3" y1="457.3" x2="433.6" y2="463.2" stroke="#f6f6f6" stroke-width="2.3" stroke-linecap="round"/>
<circle cx="447.1" cy="455" r="4.3" fill="#fff" stroke="#858585" stroke-width="1.3"/>
<path d="M444.5 454.4 A2.4 2.4 0 1 0 447.5 452.7" fill="none" stroke="#9a9a9a" stroke-width="0.9" stroke-linejoin="round" stroke-linecap="round" />
<line x1="443.3" y1="479.3" x2="433.6" y2="485.2" stroke="#8a8a8a" stroke-width="4.2" stroke-linecap="round"/>
<line x1="443.3" y1="479.3" x2="433.6" y2="485.2" stroke="#f6f6f6" stroke-width="2.3" stroke-linecap="round"/>
<circle cx="447.1" cy="477" r="4.3" fill="#fff" stroke="#858585" stroke-width="1.3"/>
<path d="M444.5 476.4 A2.4 2.4 0 1 0 447.5 474.7" fill="none" stroke="#9a9a9a" stroke-width="0.9" stroke-linejoin="round" stroke-linecap="round" />
<line x1="443.3" y1="501.6" x2="433.6" y2="507.5" stroke="#8a8a8a" stroke-width="4.2" stroke-linecap="round"/>
<line x1="443.3" y1="501.6" x2="433.6" y2="507.5" stroke="#f6f6f6" stroke-width="2.3" stroke-linecap="round"/>
<circle cx="447.1" cy="499.3" r="4.3" fill="#fff" stroke="#858585" stroke-width="1.3"/>
<path d="M444.5 498.7 A2.4 2.4 0 1 0 447.5 497" fill="none" stroke="#9a9a9a" stroke-width="0.9" stroke-linejoin="round" stroke-linecap="round" />
<line x1="443.3" y1="524.6" x2="433.6" y2="530.5" stroke="#8a8a8a" stroke-width="4.2" stroke-linecap="round"/>
<line x1="443.3" y1="524.6" x2="433.6" y2="530.5" stroke="#f6f6f6" stroke-width="2.3" stroke-linecap="round"/>
<circle cx="447.1" cy="522.3" r="4.3" fill="#fff" stroke="#858585" stroke-width="1.3"/>
<path d="M444.5 521.7 A2.4 2.4 0 1 0 447.5 520" fill="none" stroke="#9a9a9a" stroke-width="0.9" stroke-linejoin="round" stroke-linecap="round" />
<line x1="712.5" y1="566.1" x2="702.4" y2="572" stroke="#8a8a8a" stroke-width="4.2" stroke-linecap="round"/>
<line x1="712.5" y1="566.1" x2="702.4" y2="572" stroke="#f6f6f6" stroke-width="2.3" stroke-linecap="round"/>
<circle cx="716.4" cy="563.8" r="4.3" fill="#fff" stroke="#858585" stroke-width="1.3"/>
<path d="M713.8 563.2 A2.4 2.4 0 1 0 716.8 561.5" fill="none" stroke="#9a9a9a" stroke-width="0.9" stroke-linejoin="round" stroke-linecap="round" />
<line x1="712.5" y1="589.1" x2="702.4" y2="595" stroke="#8a8a8a" stroke-width="4.2" stroke-linecap="round"/>
<line x1="712.5" y1="589.1" x2="702.4" y2="595" stroke="#f6f6f6" stroke-width="2.3" stroke-linecap="round"/>
<circle cx="716.4" cy="586.8" r="4.3" fill="#fff" stroke="#858585" stroke-width="1.3"/>
<path d="M713.8 586.2 A2.4 2.4 0 1 0 716.8 584.5" fill="none" stroke="#9a9a9a" stroke-width="0.9" stroke-linejoin="round" stroke-linecap="round" />
<line x1="712.5" y1="611.3" x2="702.4" y2="617.2" stroke="#8a8a8a" stroke-width="4.2" stroke-linecap="round"/>
<line x1="712.5" y1="611.3" x2="702.4" y2="617.2" stroke="#f6f6f6" stroke-width="2.3" stroke-linecap="round"/>
<circle cx="716.4" cy="609" r="4.3" fill="#fff" stroke="#858585" stroke-width="1.3"/>
<path d="M713.8 608.4 A2.4 2.4 0 1 0 716.8 606.7" fill="none" stroke="#9a9a9a" stroke-width="0.9" stroke-linejoin="round" stroke-linecap="round" />
<line x1="712.5" y1="634.3" x2="702.4" y2="640.2" stroke="#8a8a8a" stroke-width="4.2" stroke-linecap="round"/>
<line x1="712.5" y1="634.3" x2="702.4" y2="640.2" stroke="#f6f6f6" stroke-width="2.3" stroke-linecap="round"/>
<circle cx="716.4" cy="632" r="4.3" fill="#fff" stroke="#858585" stroke-width="1.3"/>
<path d="M713.8 631.4 A2.4 2.4 0 1 0 716.8 629.7" fill="none" stroke="#9a9a9a" stroke-width="0.9" stroke-linejoin="round" stroke-linecap="round" />
<line x1="712.5" y1="658.9" x2="702.4" y2="664.8" stroke="#8a8a8a" stroke-width="4.2" stroke-linecap="round"/>
<line x1="712.5" y1="658.9" x2="702.4" y2="664.8" stroke="#f6f6f6" stroke-width="2.3" stroke-linecap="round"/>
<circle cx="716.4" cy="656.6" r="4.3" fill="#fff" stroke="#858585" stroke-width="1.3"/>
<path d="M713.8 656 A2.4 2.4 0 1 0 716.8 654.3" fill="none" stroke="#9a9a9a" stroke-width="0.9" stroke-linejoin="round" stroke-linecap="round" />
<polyline points="428.5,448.2 662,448.2" fill="none" stroke="#555" stroke-width="1.1" stroke-linejoin="round" stroke-linecap="round" />
<polyline points="679.5,462 679.5,586" fill="none" stroke="#555" stroke-width="1.1" stroke-linejoin="round" stroke-linecap="round" />
<circle cx="679.3" cy="446.3" r="19.3" fill="#888887" stroke="none" stroke-width="1"/>
<text transform="translate(673,452.3) scale(1.077,1)" font-size="20.5" font-weight="bold" fill="#fff" stroke="#fff" stroke-width="1.8" stroke-linejoin="round">L</text>
<polyline points="60,602.4 94.6,602.4" fill="none" stroke="#555" stroke-width="1.1" stroke-linejoin="round" stroke-linecap="round" />
<polyline points="94.6,602.4 104.3,602.4" fill="none" stroke="#8a877b" stroke-width="1.1" stroke-linejoin="round" stroke-linecap="round" />
<polyline points="42.3,608 42.3,640.4 94.6,640.4" fill="none" stroke="#555" stroke-width="1.1" stroke-linejoin="round" stroke-linecap="round" />
<polyline points="94.6,640.4 104.8,640.4" fill="none" stroke="#8a877b" stroke-width="1.1" stroke-linejoin="round" stroke-linecap="round" />
<circle cx="43.7" cy="591.2" r="19.3" fill="#888887" stroke="none" stroke-width="1"/>
<text transform="translate(32,600.1) scale(1.131,1)" font-size="22.4" font-weight="bold" fill="#fff" stroke="#fff" stroke-width="1.8" stroke-linejoin="round">P</text>
<text transform="translate(49.9,600.5) scale(0.959,1)" font-size="13.9" font-weight="bold" fill="#fff" stroke="#fff" stroke-width="1.0" stroke-linejoin="round">2</text>
<polyline points="678.3,714.5 748,714.5" fill="none" stroke="#555" stroke-width="1.1" stroke-linejoin="round" stroke-linecap="round" />
<polyline points="764.5,726 764.5,768.7 678.3,768.7" fill="none" stroke="#555" stroke-width="1.1" stroke-linejoin="round" stroke-linecap="round" />
<circle cx="764.2" cy="709.7" r="19.3" fill="#888887" stroke="none" stroke-width="1"/>
<text transform="translate(752.5,718.6) scale(1.131,1)" font-size="22.4" font-weight="bold" fill="#fff" stroke="#fff" stroke-width="1.8" stroke-linejoin="round">P</text>
<text transform="translate(770.4,719) scale(0.959,1)" font-size="13.9" font-weight="bold" fill="#fff" stroke="#fff" stroke-width="1.0" stroke-linejoin="round">2</text>
</svg>
</body>
</html>
